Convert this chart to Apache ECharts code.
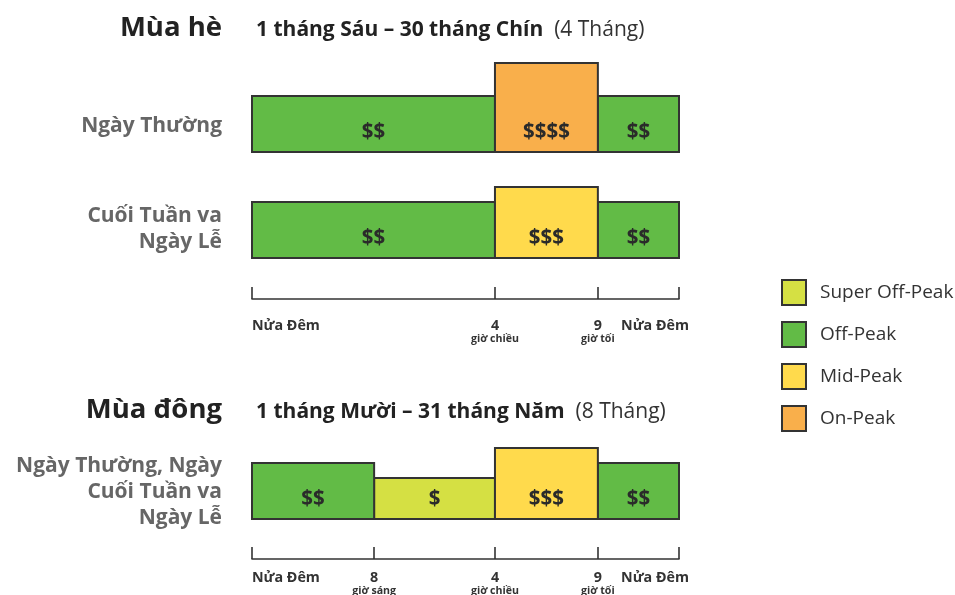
<!DOCTYPE html>
<html>
<head>
<meta charset="utf-8">
<script src="https://cdn.jsdelivr.net/npm/echarts@6/dist/echarts.min.js"></script>
<style>
html,body{margin:0;padding:0;background:#fff;}
#chart{width:955px;height:595px;}
</style>
</head>
<body>
<div id="chart"></div>
<script>
// ---- data ----
const hours = [0, 8, 16, 21, 24];                 // boundary hours of the day
const hourPos = [0, 28.6, 56.9, 81.0, 100];        // where each hour sits on the (not-to-scale) timeline
const rateClasses = ['Super Off-Peak', 'Off-Peak', 'Mid-Peak', 'On-Peak'];
const rateColors = ['#D5E043', '#62BB46', '#FFDA4C', '#F9AF4B'];
const rateLevels = [41, 56, 71, 89];               // relative bar height of each rate class
const rateSymbols = ['$', '$$', '$$$', '$$$$'];
// segments: [start hour, end hour, rate class index]
const summerWeekday = [[0, 16, 1], [16, 21, 3], [21, 24, 1]];
const summerWeekend = [[0, 16, 1], [16, 21, 2], [21, 24, 1]];
const winterAllDays = [[0, 8, 1], [8, 16, 0], [16, 21, 2], [21, 24, 1]];
// timeline tick hours and labels
const summerTicks = [0, 16, 21, 24];
const winterTicks = [0, 8, 16, 21, 24];
const tickMain = {0: 'Nửa Đêm', 8: '8', 16: '4', 21: '9', 24: 'Nửa Đêm'};
const tickSub = {0: '', 8: 'giờ sáng', 16: 'giờ chiều', 21: 'giờ tối', 24: ''};

const FONT = '"Open Sans", "Noto Sans", sans-serif';
const posOf = h => hourPos[hours.indexOf(h)];

const chart = echarts.init(document.getElementById('chart'), null, {renderer: 'canvas'});

const grids = [
  {left: 252, width: 427, top: 52, height: 100},   // summer weekday
  {left: 252, width: 427, top: 158, height: 100},  // summer weekend
  {left: 252, width: 427, top: 419, height: 100},  // winter
  {left: 252, width: 427, top: 298, height: 1},    // summer timeline
  {left: 252, width: 427, top: 558, height: 1}     // winter timeline
];

const xAxes = grids.map((g, i) => {
  const isTimeline = i >= 3;
  const ticks = i === 3 ? summerTicks : winterTicks;
  return {
    type: 'value', gridIndex: i, min: 0, max: 100,
    show: isTimeline,
    axisLine: {show: isTimeline, onZero: false, lineStyle: {color: '#333', width: 1.6}},
    axisTick: {show: isTimeline, inside: true, length: 12, customValues: ticks.map(posOf),
               lineStyle: {color: '#333', width: 1.6}},
    axisLabel: {show: false},
    splitLine: {show: false}
  };
});
const yAxes = grids.map((g, i) => ({
  type: 'value', gridIndex: i, min: 0, max: 100, show: false, splitLine: {show: false}
}));

function barRender(params, api) {
  const s = api.coord([api.value(0), 0]);
  const e = api.coord([api.value(1), api.value(2)]);
  const cls = api.value(3);
  return {
    type: 'group',
    children: [
      {type: 'rect', shape: {x: s[0], y: e[1], width: e[0] - s[0], height: s[1] - e[1]},
       style: {fill: rateColors[cls], stroke: '#333', lineWidth: 2}},
      {type: 'text', x: (s[0] + e[0]) / 2, y: s[1] - 20,
       style: {text: rateSymbols[cls], fill: '#2a2a2a', font: 'bold 20.5px ' + FONT,
               align: 'center', verticalAlign: 'middle'}}
    ]
  };
}

const series = [];
[summerWeekday, summerWeekend, winterAllDays].forEach((row, gi) => {
  rateClasses.forEach((name, ci) => {
    const data = row.filter(s => s[2] === ci).map(s => [posOf(s[0]), posOf(s[1]), rateLevels[ci], ci]);
    series.push({
      type: 'custom', name: name, xAxisIndex: gi, yAxisIndex: gi,
      itemStyle: {color: rateColors[ci], borderColor: '#333', borderWidth: 2},
      renderItem: barRender, encode: {x: [0, 1], y: 2},
      data: data, silent: true
    });
  });
});

function tickLabelRender(mainDy, subDy) {
  return function (params, api) {
    const h = api.value(0);
    const p = api.coord([api.value(1), 0]);
    const main = tickMain[h], sub = tickSub[h];
    let align = 'center', x = p[0];
    if (h === 0) { align = 'left'; }
    if (h === 24) { align = 'right'; x = p[0] + 10; }
    const kids = [{type: 'text', x: x, y: p[1] + mainDy,
      style: {text: main, fill: '#333', font: 'bold 14.3px ' + FONT, align: align, verticalAlign: 'middle'}}];
    if (sub) kids.push({type: 'text', x: x, y: p[1] + subDy,
      style: {text: sub, fill: '#333', font: 'bold 10.6px ' + FONT, align: 'center', verticalAlign: 'middle'}});
    return {type: 'group', children: kids};
  };
}
series.push({type: 'custom', xAxisIndex: 3, yAxisIndex: 3, silent: true,
  renderItem: tickLabelRender(26.5, 40), data: summerTicks.map(h => [h, posOf(h)])});
series.push({type: 'custom', xAxisIndex: 4, yAxisIndex: 4, silent: true,
  renderItem: tickLabelRender(18.5, 32), data: winterTicks.map(h => [h, posOf(h)])});

const titleStyle = {fill: '#222', font: 'bold 27.5px ' + FONT, align: 'right', verticalAlign: 'middle'};
const rowStyle = {fill: '#666', font: 'bold 21px ' + FONT, align: 'right', verticalAlign: 'middle', lineHeight: 26};
const subRich = {
  b: {fontFamily: FONT, fontWeight: 'bold', fontSize: 21, fill: '#222'},
  r: {fontFamily: FONT, fontWeight: 'normal', fontSize: 21, fill: '#333'}
};

const option = {
  animation: false,
  grid: grids,
  xAxis: xAxes,
  yAxis: yAxes,
  legend: {
    orient: 'vertical', left: 776, top: 274,
    itemWidth: 24, itemHeight: 25, itemGap: 15, icon: 'rect',
    selectedMode: false,
    data: rateClasses.map((n, i) => ({name: n, itemStyle: {color: rateColors[i], borderColor: '#333', borderWidth: 2}})),
    textStyle: {fontFamily: FONT, fontSize: 19, color: '#333', padding: [0, 0, 0, 9]}
  },
  graphic: [
    {type: 'text', x: 222, y: 28, style: Object.assign({text: 'Mùa hè'}, titleStyle)},
    {type: 'text', x: 222, y: 410, style: Object.assign({text: 'Mùa đông'}, titleStyle)},
    {type: 'text', x: 256, y: 30, style: {text: '{b|1 tháng Sáu – 30 tháng Chín}{r|  (4 Tháng)}', rich: subRich, verticalAlign: 'middle'}},
    {type: 'text', x: 256, y: 412, style: {text: '{b|1 tháng Mười – 31 tháng Năm}{r|  (8 Tháng)}', rich: subRich, verticalAlign: 'middle'}},
    {type: 'text', x: 222, y: 126, style: Object.assign({text: 'Ngày Thường'}, rowStyle)},
    {type: 'text', x: 222, y: 229, style: Object.assign({text: 'Cuối Tuần va\nNgày Lễ'}, rowStyle)},
    {type: 'text', x: 222, y: 492, style: Object.assign({text: 'Ngày Thường, Ngày\nCuối Tuần va\nNgày Lễ'}, rowStyle)}
  ],
  series: series
};
chart.setOption(option);
</script>
</body>
</html>
